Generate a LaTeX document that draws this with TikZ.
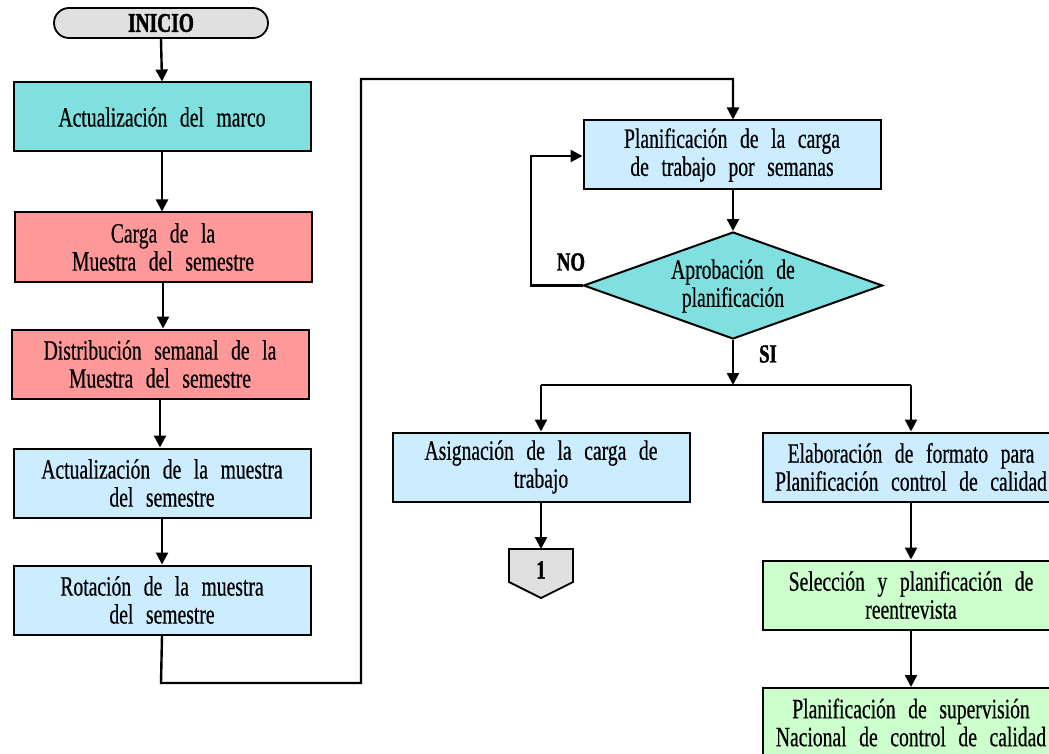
\documentclass[tikz,border=0pt]{standalone}
\usepackage{fontspec}
\setmainfont{Liberation Serif}[FakeStretch=0.7,FakeBold=0.5]
\newfontfamily\boldf{Liberation Serif}[FakeStretch=0.72,FakeBold=1.5]
\usetikzlibrary{shapes.geometric,arrows.meta}
\definecolor{teal1}{HTML}{7FE0DF}
\definecolor{salmon1}{HTML}{FF9999}
\definecolor{blue1}{HTML}{CCECFF}
\definecolor{green1}{HTML}{CCFFCC}
\definecolor{gray1}{HTML}{E0E0E0}
\newcommand{\ftxt}{\fontsize{28}{28}\selectfont\spaceskip=0.45em plus 0.1em}
\tikzset{
  box/.style={draw=black,line width=2pt,minimum width=297pt,minimum height=69pt,align=center,inner sep=0pt,font=\ftxt},
  arr/.style={line width=2.4pt,-{Triangle[length=12pt,width=12pt]}},
  ln/.style={line width=2.4pt},
  lbl/.style={font=\boldf\fontsize{26}{28}\selectfont\bfseries}
}
\begin{document}
\begin{tikzpicture}[x=1pt,y=-1pt]
\useasboundingbox (0,0) rectangle (1049,754);
\clip (0,0) rectangle (1049,754);
\node[draw,line width=1.8pt,fill=gray1,rounded corners=15pt,minimum width=214pt,minimum height=30pt,inner sep=0pt,font=\boldf\fontsize{27}{28}\selectfont\bfseries] (ini) at (161,23) {INICIO};
\node[box,fill=teal1] (b1) at (162,117) {Actualización del marco};
\node[box,fill=salmon1] (b2) at (163,247) {Carga de la\\Muestra del semestre};
\node[box,fill=salmon1] (b3) at (160,364) {Distribución semanal de la\\Muestra del semestre};
\node[box,fill=blue1] (b4) at (162,483) {Actualización de la muestra\\del semestre};
\node[box,fill=blue1] (b5) at (162,600) {Rotación de la muestra\\del semestre};
\node[box,fill=blue1] (b6) at (732,155) {Planificación de la carga\\de trabajo por semanas};
\node[diamond,draw,line width=2pt,fill=teal1,minimum width=299pt,minimum height=107pt,aspect=2.8,inner sep=0pt] (d) at (733,285.5) {};
\node[align=center,font=\ftxt] at (733,286) {Aprobación de\\planificación};
\node[box,fill=blue1] (b7) at (541,467) {Asignación de la carga de\\trabajo};
\node[box,fill=blue1] (b8) at (911,467) {Elaboración de formato para\\Planificación control de calidad};
\node[box,fill=green1] (b9) at (911,595) {Selección y planificación de\\reentrevista};
\node[box,fill=green1,anchor=north] (b10) at (911,687) {Planificación de supervisión\\Nacional de control de calidad};
% off-page connector
\draw[line width=1.8pt,fill=gray1] (509,549) -- (573,549) -- (573,582) -- (541,598) -- (509,582) -- cycle;
\node[lbl] (c1) at (541,570) {1};
% arrows
\draw[arr] (ini.south) -- (b1.north);
\draw[arr] (b1.south) -- (b2.north -| b1.south);
\draw[arr] (b2.south) -- (b3.north -| b2.south);
\draw[arr] (b3.south) -- (b4.north -| b3.south);
\draw[arr] (b4.south) -- (b5.north -| b4.south);
\coordinate (p1) at (161,683);
\coordinate (p2) at (361,683);
\coordinate (p3) at (361,79);
\coordinate (p4) at (733,79);
\draw[arr] (b5.south) -- (p1) -- (p2) -- (p3) -- (p4) -- (b6.north -| p4);
\draw[arr] (b6.south -| d.north) -- (d.north);
\coordinate (n1) at (531,285.5);
\coordinate (n2) at (531,156);
\draw[arr] (d.west) -- (n1) -- (n2) -- (n2 -| b6.west);
\node[lbl] at (571,262) {NO};
\node[lbl] at (768,354) {SI};
\coordinate (j) at (733,385);
\coordinate (jl) at (541,385);
\coordinate (jr) at (911,385);
\draw[arr] (d.south) -- (j);
\draw[ln] (jl) -- (jr);
\draw[arr] (jl) -- (b7.north);
\draw[arr] (jr) -- (b8.north);
\draw[arr] (b7.south) -- (541,549);
\draw[arr] (b8.south) -- (b9.north);
\draw[arr] (b9.south) -- (b10.north);
\end{tikzpicture}
\end{document}
